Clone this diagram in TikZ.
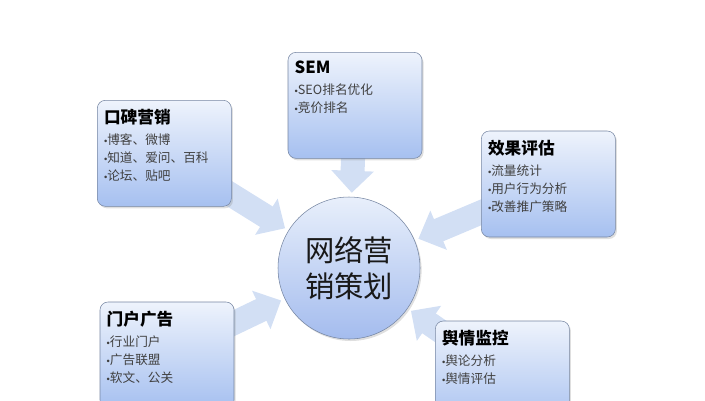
\documentclass[tikz,border=0pt]{standalone}
\usepackage{fontspec}
\setmainfont{Noto Sans CJK SC}
\newfontfamily\bulletfont{Liberation Sans}
\usetikzlibrary{arrows.meta,shadows,backgrounds}
\definecolor{boxtop}{RGB}{238,243,252}
\definecolor{boxbottom}{RGB}{166,192,240}
\definecolor{hubtop}{RGB}{232,239,251}
\definecolor{hubbottom}{RGB}{164,188,238}
\definecolor{edge}{RGB}{118,134,162}
\definecolor{arrowfill}{RGB}{210,223,244}
\definecolor{itemgray}{RGB}{64,64,64}
\tikzstyle{card} = [rectangle, rounded corners=6pt, inner xsep=5pt, inner ysep=4pt, draw=edge, top color=boxtop, bottom color=boxbottom, drop shadow={shadow xshift=1.2pt, shadow yshift=-1.5pt, opacity=0.25}]
\tikzstyle{hubstyle} = [circle, minimum size=106.5pt, inner sep=0pt, align=center, draw=edge, top color=hubtop, bottom color=hubbottom, text=black!90, font=\fontsize{22pt}{27pt}\selectfont, drop shadow={shadow xshift=1.2pt, shadow yshift=-1.5pt, opacity=0.25}]
\tikzstyle{arrow} = [line width=18pt, draw=arrowfill, -{Triangle[width=31pt,length=16.5pt]}, shorten <=-14pt, shorten >=3pt]
\newcommand{\itm}{{\bulletfont\fontsize{7pt}{7pt}\selectfont •}}
\newcommand{\cardtext}[2]{\parbox[c][71.5pt][t]{90.5pt}{\vspace*{2.5pt}{\fontsize{12.5pt}{14pt}\bfseries\selectfont #1\par}\vspace{2.5pt}{\fontsize{9.5pt}{13.5pt}\selectfont\color{itemgray}#2\par}}}

\begin{document}
\begin{tikzpicture}[x=0.75pt, y=-0.75pt, node distance=80pt]
\useasboundingbox (0,0) rectangle (705,400);
\node (hub) [hubstyle] at (349,268) {网络营\\销策划};
\node (sem) [card, above of=hub, xshift=4.5pt, yshift=42pt] {\cardtext{SEM}{\itm SEO排名优化\\\itm 竞价排名}};
\node (koubei) [card, left of=hub, xshift=-58.5pt, yshift=86pt] {\cardtext{口碑营销}{\itm 博客、微博\\\itm 知道、爱问、百科\\\itm 论坛、贴吧}};
\node (xiaoguo) [card, right of=hub, xshift=69.5pt, yshift=63pt] {\cardtext{效果评估}{\itm 流量统计\\\itm 用户行为分析\\\itm 改善推广策略}};
\node (yuqing) [card, below of=hub, xshift=115pt, yshift=0.5pt] {\cardtext{舆情监控}{\itm 舆论分析\\\itm 舆情评估}};
\node (menhu) [card, below of=hub, xshift=-136.5pt, yshift=14.75pt] {\cardtext{门户广告}{\itm 行业门户\\\itm 广告联盟\\\itm 软文、公关}};

\begin{scope}[on background layer]
\draw [arrow] (sem) -- (hub);
\draw [arrow] (koubei) -- (hub);
\draw [arrow] (xiaoguo) -- (hub);
\draw [arrow] (yuqing) -- (hub);
\draw [arrow] (menhu) -- (hub);
\end{scope}

\end{tikzpicture}
\end{document}
